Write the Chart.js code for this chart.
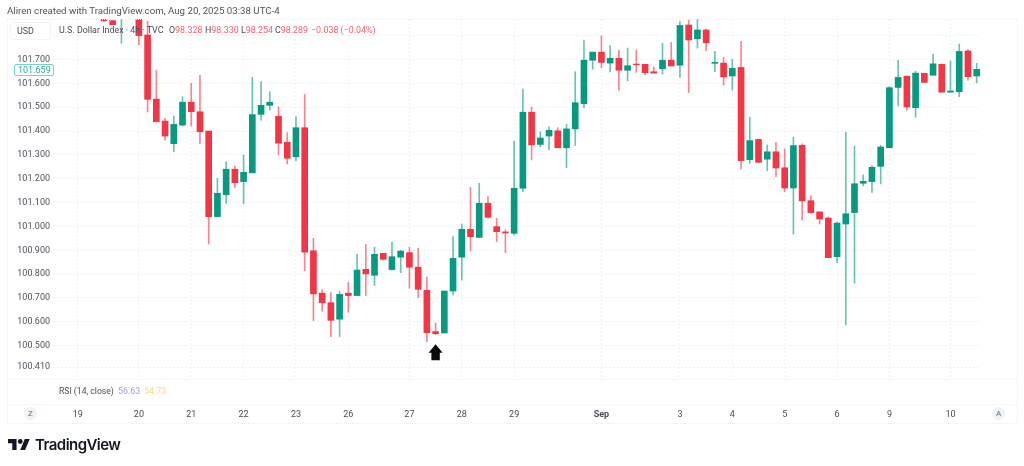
<!DOCTYPE html>
<html>
<head>
<meta charset="utf-8">
<script src="https://cdn.jsdelivr.net/npm/chart.js@4"></script>
<style>
  html, body { margin:0; padding:0; background:#fff; width:1024px; height:466px; overflow:hidden; }
  body { position:relative; font-family:Roboto, sans-serif; color:#4a4d58; }
  #chart { position:absolute; left:0; top:0; }
  .txt { position:absolute; white-space:pre; font-size:8.9px; line-height:12px; }
  .line { position:absolute; border:0 dotted #eceef2; }
  .red { color:#f7626e; }
  .btn { position:absolute; box-sizing:border-box; border:1px solid #f0f3fa; border-radius:3px; background:#fff; }
  .round { position:absolute; width:13px; height:13px; border-radius:50%; background:#f0f3fa; color:#6a6d78;
           font-size:8px; line-height:13px; text-align:center; }
</style>
</head>
<body>
<canvas id="chart" width="1024" height="466"></canvas>

<div class="line" style="left:7px;top:19px;width:1010px;border-top-width:1px"></div>
<div class="line" style="left:7px;top:379px;width:1010px;border-top-width:1px"></div>
<div class="line" style="left:7px;top:404px;width:1010px;border-top-width:1px"></div>
<div class="line" style="left:7px;top:423px;width:1010px;border-top-width:1px"></div>
<div class="line" style="left:7px;top:19px;height:404px;border-left-width:1px"></div>
<div class="line" style="left:1017px;top:19px;height:404px;border-left-width:1px"></div>

<div class="txt" style="left:7px;top:5px;color:#555;font-size:9.7px">Aliren created with TradingView.com, Aug 20, 2025 03:38 UTC-4</div>
<div class="btn" style="left:10px;top:22px;width:41px;height:18px"></div>
<div class="txt" style="left:17px;top:25px">USD</div>
<div class="txt" style="left:59px;top:24px">U.S. Dollar Index · 4h · TVC</div>
<div class="txt" style="left:169px;top:24px">O<span class="red">98.328</span></div>
<div class="txt" style="left:205px;top:24px">H<span class="red">98.330</span></div>
<div class="txt" style="left:241px;top:24px">L<span class="red">98.254</span></div>
<div class="txt" style="left:275px;top:24px">C<span class="red">98.289</span></div>
<div class="txt red" style="left:311px;top:24px">−0.038 (−0.04%)</div>

<div class="btn" style="left:14px;top:64px;width:40px;height:12px;border-color:#7fd0c2;border-radius:2px"></div>
<div class="txt" style="left:18px;top:64px;color:#2aa893;font-size:9px">101.659</div>

<div class="txt" style="left:59px;top:385px;font-size:8.6px">RSI (14, close)</div>
<div class="txt" style="left:118px;top:385px;color:#a99be0">56.63</div>
<div class="txt" style="left:144px;top:385px;color:#fdd878">54.73</div>

<div class="round" style="left:24px;top:407px">Z</div>
<div class="round" style="left:992px;top:407px">A</div>

<svg style="position:absolute;left:8px;top:439px" width="22" height="11" viewBox="0 4 36 18">
  <path fill="#131722" d="M14 22H7V11H0V4h14v18zM28 22h-8l7.5-18h8L28 22z"/>
  <circle fill="#131722" cx="20" cy="8" r="4"/>
</svg>
<div class="txt" style="left:35px;top:436px;font:600 15px/18px Inter, sans-serif;color:#131722;letter-spacing:-0.55px">TradingView</div>

<script>
// 4h candles, oldest first. The first few run off the top of the pane
const opens = [
  101.870,101.863,101.885,101.950,101.890,101.803,101.534,101.442,101.347,101.425,
  101.521,101.481,101.400,101.041,101.133,101.240,101.188,101.225,101.470,101.508,
  101.462,101.353,101.292,101.414,100.898,100.720,100.680,100.611,100.720,100.710,
  100.820,100.795,100.887,100.819,100.871,100.890,100.829,100.732,100.559,100.553,
  100.729,100.871,100.988,100.954,101.097,100.999,100.977,100.971,101.160,101.479,
  101.344,101.379,101.401,101.330,101.409,101.515,101.697,101.731,101.685,101.705,
  101.655,101.681,101.680,101.649,101.661,101.697,101.676,101.845,101.787,101.824,
  101.684,101.685,101.631,101.667,101.280,101.365,101.282,101.313,101.246,101.161,
  101.340,101.108,101.061,101.035,100.873,101.010,101.058,101.181,101.188,101.252,
  101.330,101.583,101.630,101.498,101.642,101.634,101.680,101.563,101.565,101.736,
  101.631
];
const highs = [
  101.870,101.865,101.930,101.990,101.900,101.861,101.656,101.453,101.463,101.544,
  101.600,101.635,101.400,101.202,101.271,101.253,101.300,101.625,101.607,101.565,
  101.502,101.393,101.460,101.554,100.950,100.734,100.722,100.729,100.766,100.884,
  100.925,100.913,100.887,100.934,100.901,100.913,100.908,100.788,100.594,100.729,
  100.957,101.010,101.164,101.181,101.125,101.034,100.985,101.358,101.576,101.500,
  101.397,101.418,101.414,101.428,101.649,101.782,101.731,101.799,101.757,101.740,
  101.748,101.740,101.681,101.669,101.768,101.772,101.859,101.866,101.870,101.828,
  101.734,101.709,101.701,101.776,101.458,101.367,101.342,101.353,101.325,101.374,
  101.346,101.128,101.061,101.040,101.019,101.395,101.337,101.216,101.255,101.340,
  101.586,101.697,101.632,101.651,101.643,101.723,101.681,101.694,101.765,101.743,
  101.684
];
const lows = [
  101.860,101.846,101.768,101.930,101.761,101.480,101.439,101.362,101.313,101.421,
  101.421,101.346,100.926,101.041,101.098,101.162,101.096,101.225,101.446,101.488,
  101.300,101.262,101.276,100.814,100.605,100.645,100.538,100.538,100.640,100.710,
  100.710,100.752,100.859,100.817,100.806,100.741,100.701,100.517,100.546,100.553,
  100.713,100.775,100.898,100.952,101.035,100.936,100.890,100.964,101.146,101.279,
  101.334,101.321,101.330,101.246,101.339,101.498,101.659,101.666,101.648,101.572,
  101.611,101.646,101.636,101.643,101.639,101.673,101.625,101.561,101.748,101.737,
  101.649,101.593,101.572,101.241,101.265,101.267,101.234,101.209,101.146,100.968,
  101.027,101.055,101.010,100.869,100.848,100.587,100.762,101.170,101.143,101.178,
  101.330,101.505,101.488,101.458,101.603,101.634,101.563,101.563,101.544,101.613,
  101.602
];
const closes = [
  101.863,101.846,101.920,101.980,101.800,101.533,101.439,101.379,101.428,101.521,
  101.481,101.397,101.041,101.139,101.240,101.183,101.227,101.469,101.508,101.521,
  101.349,101.286,101.414,100.892,100.717,100.680,100.606,100.715,100.710,100.817,
  100.801,100.883,100.862,100.873,100.896,100.829,100.736,100.554,100.550,100.729,
  100.866,100.988,100.957,101.097,101.038,100.978,100.973,101.160,101.479,101.342,
  101.371,101.403,101.330,101.409,101.519,101.697,101.731,101.688,101.705,101.655,
  101.674,101.678,101.645,101.643,101.697,101.673,101.843,101.782,101.824,101.770,
  101.688,101.627,101.663,101.276,101.360,101.269,101.313,101.245,101.161,101.339,
  101.107,101.058,101.031,100.869,101.014,101.053,101.179,101.189,101.248,101.333,
  101.582,101.625,101.501,101.643,101.604,101.682,101.563,101.568,101.734,101.628,
  101.659
];

// candle index each date label sits on (the first one is left of the data)
const dateTicks  = [-3, 4, 10, 16, 22, 28, 35, 41, 47, 57, 66, 72, 78, 84, 90, 97];
const dateLabels = ['19','20','21','22','23','26','27','28','29','Sep','3','4','5','6','9','10'];
const priceTicks = [101.8, 101.7, 101.6, 101.5, 101.4, 101.3, 101.2, 101.1, 101.0, 100.9, 100.8, 100.7, 100.6, 100.5, 100.41];
const hiddenPriceLabel = 101.8;   // sits behind the USD button

const arrowCandle = 38;
const arrowPrice  = 100.506;

const GREEN = '#089981';
const RED   = '#f23645';
const GREEN_WICK = 'rgba(8,153,129,0.6)';
const RED_WICK   = 'rgba(242,54,69,0.6)';
const GRID  = '#f0f1f4';

const colors     = opens.map((o, i) => closes[i] >= o ? GREEN : RED);
const wickColors = opens.map((o, i) => closes[i] >= o ? GREEN_WICK : RED_WICK);
const bodyPoints = opens.map((o, i) => ({ x: i, y: [o, closes[i]] }));
const wickPoints = lows.map((l, i) => ({ x: i, y: [l, highs[i]] }));

// black up arrow under the marked candle
const arrowPlugin = {
  id: 'arrow',
  afterDatasetsDraw(chart) {
    const x = chart.scales.x.getPixelForValue(arrowCandle);
    const y = chart.scales.y.getPixelForValue(arrowPrice);
    const ctx = chart.ctx;
    ctx.save();
    ctx.fillStyle = '#0b0b0b';
    ctx.beginPath();
    ctx.moveTo(x, y);
    ctx.lineTo(x + 7, y + 8.5);
    ctx.lineTo(x + 4.2, y + 8.5);
    ctx.lineTo(x + 4.2, y + 16);
    ctx.lineTo(x - 4.2, y + 16);
    ctx.lineTo(x - 4.2, y + 8.5);
    ctx.lineTo(x - 7, y + 8.5);
    ctx.closePath();
    ctx.fill();
    ctx.restore();
  }
};

new Chart(document.getElementById('chart').getContext('2d'), {
  type: 'bar',
  data: {
    datasets: [
      { data: wickPoints, backgroundColor: wickColors, barThickness: 1, borderWidth: 0, order: 2 },
      { data: bodyPoints, backgroundColor: colors, barThickness: 6, borderWidth: 0, order: 1 }
    ]
  },
  plugins: [arrowPlugin],
  options: {
    responsive: false,
    animation: false,
    events: [],
    grouped: false,
    layout: { padding: { top: 19, right: 44, bottom: 0, left: 0 } },
    plugins: { legend: { display: false }, tooltip: { enabled: false } },
    scales: {
      x: {
        type: 'linear',
        offset: false,
        min: -5.84,
        max: 100.38,
        afterBuildTicks: s => { s.ticks = dateTicks.map(v => ({ value: v })); },
        afterFit: s => { s.height = 87; },
        grid: { color: GRID, offset: false, drawTicks: false },
        border: { display: false, dash: [2, 2] },
        ticks: {
          padding: 30,
          autoSkip: false,
          maxRotation: 0,
          color: '#4a4d58',
          font: c => ({ family: 'Roboto', size: 9, weight: dateLabels[c.index] === 'Sep' ? 'bold' : 'normal' }),
          callback: (v, i) => dateLabels[i]
        }
      },
      y: {
        min: 100.36,
        max: 101.87,
        afterBuildTicks: s => { s.ticks = priceTicks.map(v => ({ value: v })); },
        afterFit: s => { s.width = 53; },
        grid: { color: GRID, drawTicks: false },
        border: { display: false, dash: [2, 2] },
        ticks: {
          padding: 3,
          autoSkip: false,
          color: '#4f525d',
          font: { family: 'Roboto', size: 9 },
          callback: v => v === hiddenPriceLabel ? '' : v.toFixed(3)
        }
      }
    }
  }
});
</script>
</body>
</html>
